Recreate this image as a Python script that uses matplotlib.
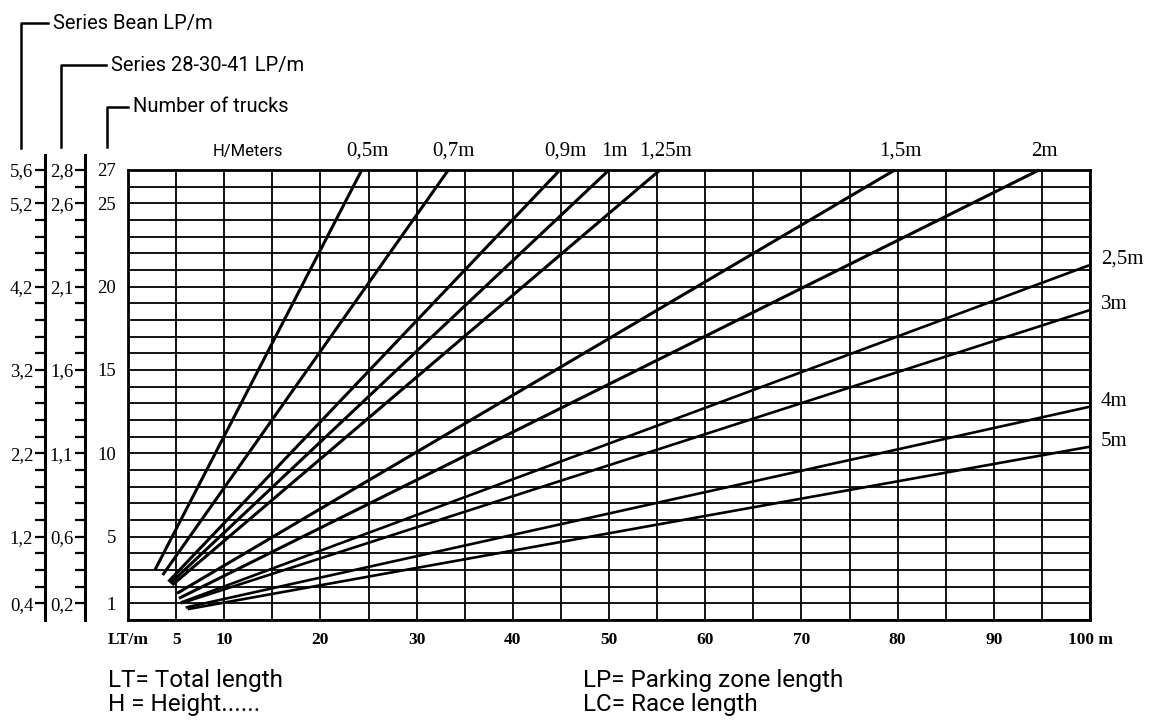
import matplotlib
matplotlib.use("Agg")
import matplotlib.pyplot as plt

# Values
heights = ["0,5m", "0,7m", "0,9m", "1m", "1,25m", "1,5m", "2m", "2,5m", "3m", "4m", "5m"]
start_lt = [2.8, 3.6, 4.2, 4.4, 4.6, 5.1, 5.3, 5.5, 5.5, 6.0, 6.2]
start_trucks = [3.0, 2.7, 2.3, 2.2, 2.1, 1.6, 1.3, 1.05, 1.0, 0.75, 0.65]
end_lt = [24.3, 33.3, 44.9, 50.0, 55.3, 79.7, 94.7, 100, 100, 100, 100]
end_trucks = [27, 27, 27, 27, 27, 27, 27, 21.3, 18.6, 12.8, 10.4]

lt_ticks = [0, 5, 10, 20, 30, 40, 50, 60, 70, 80, 90, 100]
lt_labels = ["LT/m", "5", "10", "20", "30", "40", "50", "60", "70", "80", "90", "100 m"]
truck_ticks = [1, 5, 10, 15, 20, 25, 27]
truck_labels = ["1", "5", "10", "15", "20", "25", "27"]
bean_labels = ["0,4", "1,2", "2,2", "3,2", "4,2", "5,2", "5,6"]
series_labels = ["0,2", "0,6", "1,1", "1,6", "2,1", "2,6", "2,8"]

plt.rcParams["font.family"] = ["Liberation Serif", "DejaVu Serif"]
SANS = ["Roboto", "DejaVu Sans"]
W, H = 1154, 723

fig = plt.figure(figsize=(W / 100, H / 100), dpi=100)

# overlay in pixel coords for brackets and notes
ov = fig.add_axes([0, 0, 1, 1])
ov.set_xlim(0, W)
ov.set_ylim(H, 0)
ov.axis("off")

ax = fig.add_axes([128 / W, 1 - 620 / H, 962 / W, 450 / H])
ax.set_xlim(0, 100)
ax.set_ylim(0, 27)

# grid every 5 m / every truck
xt = list(range(0, 101, 5))
ax.set_xticks(xt, [lt_labels[lt_ticks.index(t)] if t in lt_ticks else "" for t in xt],
              fontweight="bold", fontsize=12.5)
yt = list(range(0, 28))
ax.set_yticks(yt, [truck_labels[truck_ticks.index(t)] if t in truck_ticks else "" for t in yt],
              fontsize=13.5)
ax.tick_params(axis="x", length=0, pad=9)
ax.tick_params(axis="y", length=0, pad=8.5)
ax.grid(True, color="black", lw=1.3)
for s in ax.spines.values():
    s.set_linewidth(2)

# H lines
for i, h in enumerate(heights):
    lw = 2.2 if end_trucks[i] >= 27 else 1.9
    ax.plot([start_lt[i], end_lt[i]], [start_trucks[i], end_trucks[i]],
            color="black", lw=lw, solid_capstyle="butt", zorder=3, clip_on=False)
    if end_trucks[i] >= 27:
        ax.annotate(h, (end_lt[i], end_trucks[i]), xytext=(4, 13.5), textcoords="offset points",
                    ha="center", va="center", fontsize=15)
    else:
        ax.annotate(h, (end_lt[i], end_trucks[i]), xytext=(8, 4), textcoords="offset points",
                    ha="left", va="center", fontsize=15)

ax.annotate("H/Meters", (12.5, 27), xytext=(0, 13.5), textcoords="offset points",
            ha="center", va="center", fontsize=12, family=SANS)

# left scales for LP/m
for loc, labels in [(-83 / 962, bean_labels), (-43 / 962, series_labels)]:
    sec = ax.secondary_yaxis(loc)
    sec.set_yticks(truck_ticks, labels, fontsize=13.5)
    sec.set_yticks(range(1, 28), minor=True)
    sec.tick_params(which="both", direction="out", length=7, width=1.6, pad=1.5)
    sec.spines["left"].set_linewidth(2.2)
    sec.spines["left"].set_bounds(0, 27.9)

# brackets
brackets = [(21, 23, 148, 48, "Series Bean LP/m"),
            (61, 65, 147, 106, "Series 28-30-41 LP/m"),
            (107, 107, 147, 128, "Number of trucks")]
for bx, by, bottom, right, txt in brackets:
    ov.plot([bx, bx, right], [bottom, by, by], color="black", lw=1.8)
    ov.text(right + 5, by, txt, ha="left", va="center", fontsize=14.5, family=SANS)

ov.text(108, 680, "LT= Total length", ha="left", va="center", fontsize=17.5, family=SANS)
ov.text(108, 704, "H = Height......", ha="left", va="center", fontsize=17.5, family=SANS)
ov.text(583, 680, "LP= Parking zone length", ha="left", va="center", fontsize=17.5, family=SANS)
ov.text(583, 704, "LC= Race length", ha="left", va="center", fontsize=17.5, family=SANS)

fig.savefig("out.png", dpi=100)
